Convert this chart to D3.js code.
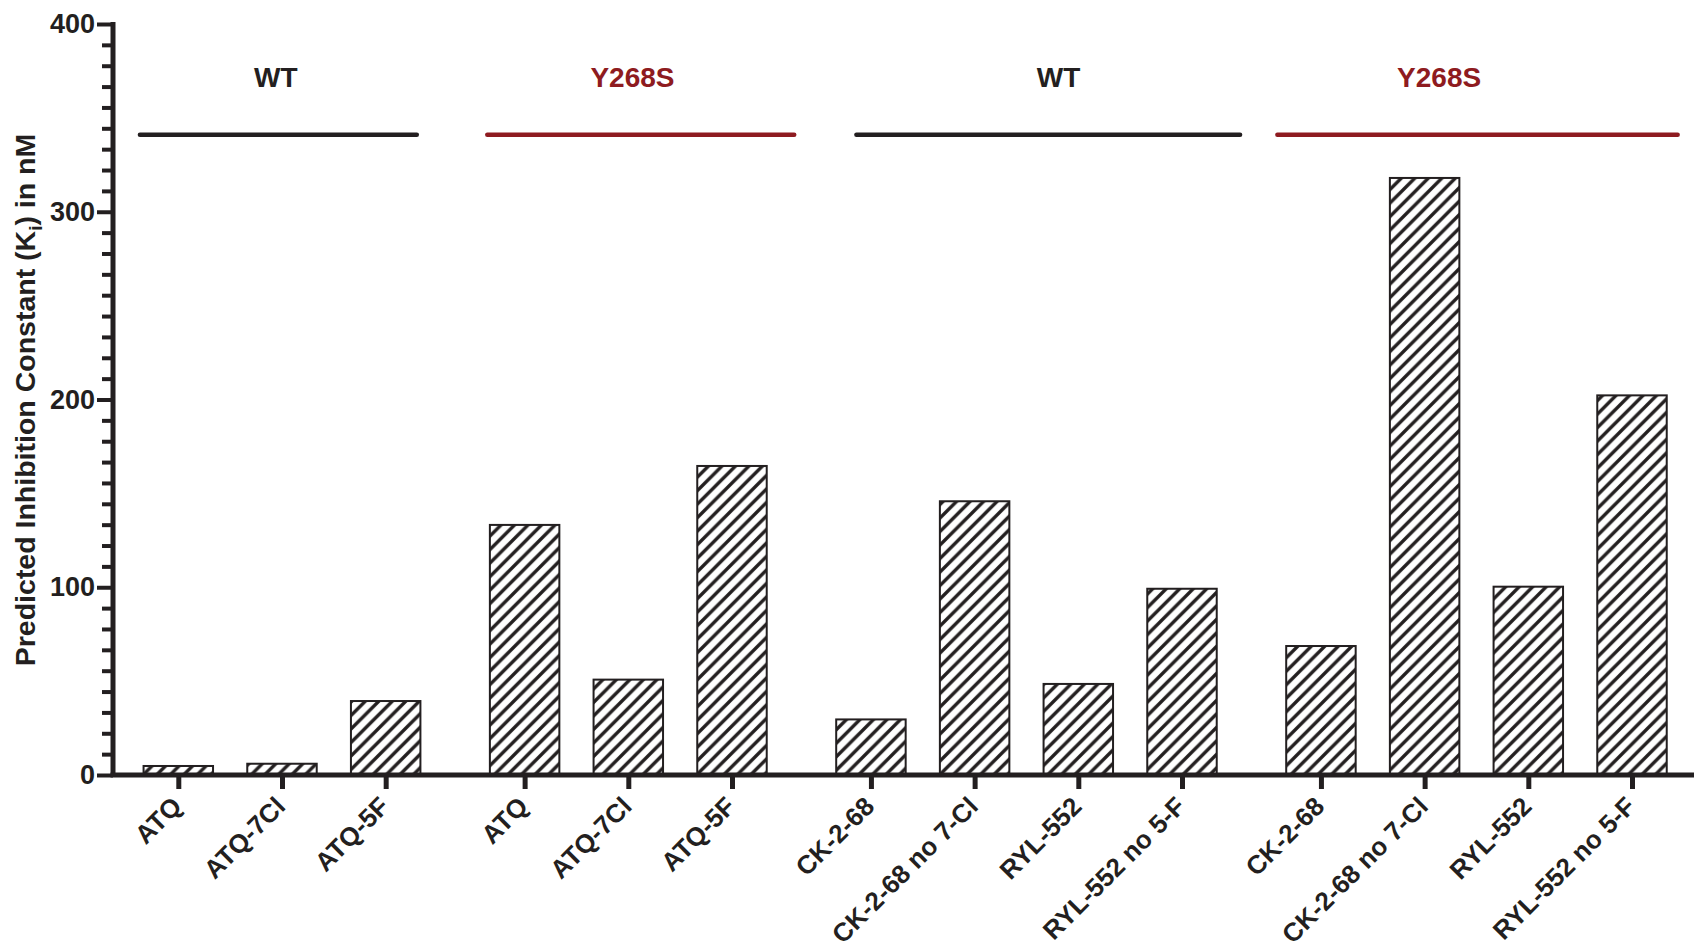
<!DOCTYPE html>
<html>
<head>
<meta charset="utf-8">
<script src="https://cdn.jsdelivr.net/npm/d3@7"></script>
<style>
  html, body { margin: 0; padding: 0; background: #fff; }
  svg { display: block; }
  text { font-family: "Liberation Sans", Arial, Helvetica, sans-serif; font-weight: bold; }
</style>
</head>
<body>
<svg id="chart" width="1694" height="949"></svg>
<script>
// ---------------- DATA ----------------
const categories = ["ATQ", "ATQ-7Cl", "ATQ-5F",
                    "ATQ", "ATQ-7Cl", "ATQ-5F",
                    "CK-2-68", "CK-2-68 no 7-Cl", "RYL-552", "RYL-552 no 5-F",
                    "CK-2-68", "CK-2-68 no 7-Cl", "RYL-552", "RYL-552 no 5-F"];
const groupIndex = [0, 0, 0, 1, 1, 1, 2, 2, 2, 2, 3, 3, 3, 3];
const kiValues = [4.8, 6.0, 39.4, 133.2, 50.8, 164.6, 29.6, 145.8, 48.5, 99.2, 68.7, 318, 100.3, 202.2];
const groupNames = ["WT", "Y268S", "WT", "Y268S"];
const yMajorTicks = [0, 100, 200, 300, 400];
const yTitle = ["Predicted Inhibition Constant (K", "i", ") in nM"];

// ---------------- LAYOUT / STYLE ----------------
const W = 1694, H = 949;
const axisColor = "#231f20";
const groupColors = ["#231f20", "#8e1b20", "#231f20", "#8e1b20"];
const groupGap = 0.34;                       // extra slot gap between groups
const lineSpans = [[-0.37, 2.30], [2.98, 5.94], [6.54, 10.24], [10.60, 14.46]]; // slot units
const labelCenters = [0.94, 4.38, 8.49, 12.16];                                  // slot units
const minorPerMajor = 9;

const svg = d3.select("#chart");
const slot = categories.map((c, i) => i + groupIndex[i] * groupGap);

const x = d3.scaleLinear().domain([0, slot[slot.length - 1]]).range([178.3, 1632]);
const y = d3.scaleLinear().domain([0, 400]).range([775, 24]);
const step = x(1) - x(0);
const barW = step * 0.67;
const axisX = 113;

// hatch pattern
const defs = svg.append("defs");
const pat = defs.append("pattern")
  .attr("id", "hatch").attr("patternUnits", "userSpaceOnUse")
  .attr("width", 13.5).attr("height", 13.5);
pat.append("rect").attr("width", 13.5).attr("height", 13.5).attr("fill", "#fff");
pat.append("path")
  .attr("d", "M0,13.5 L13.5,0 M-3.4,3.4 L3.4,-3.4 M10.1,16.9 L16.9,10.1")
  .attr("stroke", axisColor).attr("stroke-width", 3.4);

// bars
svg.append("g").selectAll("rect").data(kiValues).join("rect")
  .attr("x", (d, i) => x(slot[i]) - barW / 2)
  .attr("y", d => y(d))
  .attr("width", barW)
  .attr("height", d => y(0) - y(d))
  .attr("fill", "url(#hatch)")
  .attr("stroke", axisColor)
  .attr("stroke-width", 2);

// y axis (major + minor)
const minorTicks = [];
for (let k = 0; k < 400; k += 100) {
  for (let m = 1; m < minorPerMajor; m++) minorTicks.push(k + m * 100 / minorPerMajor);
}
const yMinor = svg.append("g").attr("transform", `translate(${axisX},0)`)
  .call(d3.axisLeft(y).tickValues(minorTicks).tickSize(11).tickSizeOuter(0).tickFormat(""));
yMinor.select(".domain").remove();
yMinor.selectAll(".tick line").attr("stroke", axisColor).attr("stroke-width", 4);

const yAxis = svg.append("g").attr("transform", `translate(${axisX},0)`)
  .call(d3.axisLeft(y).tickValues(yMajorTicks).tickSize(16).tickSizeOuter(0).tickPadding(2));
yAxis.select(".domain").attr("stroke", axisColor).attr("stroke-width", 5)
  .attr("d", `M0,${y(400) - 2}V${y(0)}`);
yAxis.selectAll(".tick line").attr("stroke", axisColor).attr("stroke-width", 4);
yAxis.selectAll(".tick text").attr("fill", axisColor)
  .style("font-size", "27px").style("font-weight", "bold")
  .style("font-family", "'Liberation Sans', Arial, sans-serif");

// x axis
const xAxis = svg.append("g").attr("transform", `translate(0,${y(0)})`)
  .call(d3.axisBottom(x).tickValues(slot).tickSize(14).tickFormat(""));
xAxis.select(".domain").remove();
xAxis.selectAll(".tick line").attr("stroke", axisColor).attr("stroke-width", 5);
svg.append("line")
  .attr("x1", axisX - 2.5).attr("x2", W).attr("y1", y(0)).attr("y2", y(0))
  .attr("stroke", axisColor).attr("stroke-width", 5);

// x tick labels (rotated)
svg.append("g").selectAll("text").data(categories).join("text")
  .attr("transform", (d, i) => `translate(${x(slot[i]) + 5},${y(0) + 33}) rotate(-45)`)
  .attr("text-anchor", "end")
  .attr("fill", axisColor)
  .style("font-size", "26px")
  .text(d => d);

// group lines & labels
svg.append("g").selectAll("line").data(lineSpans).join("line")
  .attr("x1", d => x(d[0])).attr("x2", d => x(d[1]))
  .attr("y1", y(341)).attr("y2", y(341))
  .attr("stroke", (d, i) => groupColors[i])
  .attr("stroke-width", 4.5).attr("stroke-linecap", "round");

svg.append("g").selectAll("text").data(groupNames).join("text")
  .attr("x", (d, i) => x(labelCenters[i]))
  .attr("y", y(366.2))
  .attr("text-anchor", "middle")
  .attr("fill", (d, i) => groupColors[i])
  .style("font-size", "28px")
  .text(d => d);

// y axis title
const title = svg.append("text")
  .attr("transform", `translate(35,400) rotate(-90)`)
  .attr("text-anchor", "middle")
  .attr("fill", axisColor)
  .style("font-size", "28.5px");
title.append("tspan").text(yTitle[0]);
title.append("tspan").text(yTitle[1]).attr("dy", 7).style("font-size", "19px");
title.append("tspan").text(yTitle[2]).attr("dy", -7);
</script>
</body>
</html>
